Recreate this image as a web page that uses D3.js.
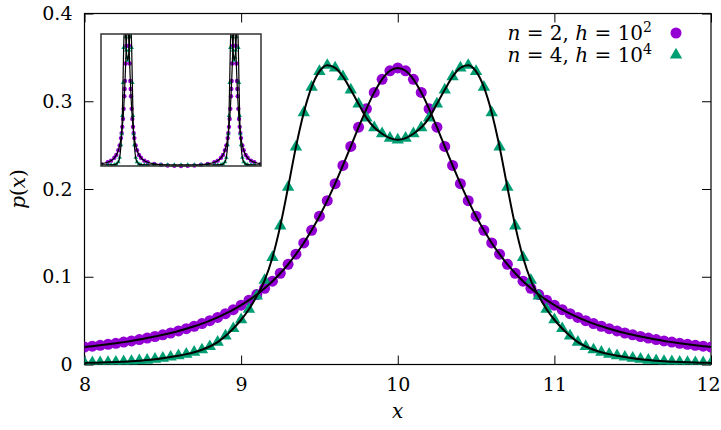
<!DOCTYPE html>
<html>
<head>
<meta charset="utf-8">
<script src="https://cdn.jsdelivr.net/npm/d3@7"></script>
<style>
  body { margin: 0; background: #fff; }
</style>
</head>
<body>
<div id="graph"></div>
<script>
// sample points, x from 8 to 12
const xs = [8, 8.05, 8.1, 8.15, 8.2, 8.25, 8.3, 8.35, 8.4, 8.45, 8.5, 8.55, 8.6, 8.65, 8.7, 8.75, 8.8, 8.85, 8.9, 8.95,
  9, 9.05, 9.1, 9.15, 9.2, 9.25, 9.3, 9.35, 9.4, 9.45, 9.5, 9.55, 9.6, 9.65, 9.7, 9.75, 9.8, 9.85, 9.9, 9.95,
  10, 10.05, 10.1, 10.15, 10.2, 10.25, 10.3, 10.35, 10.4, 10.45, 10.5, 10.55, 10.6, 10.65, 10.7, 10.75, 10.8, 10.85, 10.9, 10.95,
  11, 11.05, 11.1, 11.15, 11.2, 11.25, 11.3, 11.35, 11.4, 11.45, 11.5, 11.55, 11.6, 11.65, 11.7, 11.75, 11.8, 11.85, 11.9, 11.95, 12];

// n = 2, h = 10^2
const pN2 = [0.0199, 0.0209, 0.0219, 0.0230, 0.0242, 0.0255, 0.0269, 0.0284, 0.0301, 0.0319,
  0.0338, 0.0359, 0.0382, 0.0408, 0.0436, 0.0466, 0.0500, 0.0537, 0.0579, 0.0625,
  0.0676, 0.0733, 0.0797, 0.0869, 0.0949, 0.1040, 0.1142, 0.1257, 0.1385, 0.1529,
  0.1690, 0.1867, 0.2061, 0.2268, 0.2485, 0.2704, 0.2914, 0.3101, 0.3250, 0.3347,
  0.3380,
  0.3347, 0.3250, 0.3101, 0.2914, 0.2704, 0.2485, 0.2268, 0.2061, 0.1867, 0.1690,
  0.1529, 0.1385, 0.1257, 0.1142, 0.1040, 0.0949, 0.0869, 0.0797, 0.0733, 0.0676,
  0.0625, 0.0579, 0.0537, 0.0500, 0.0466, 0.0436, 0.0408, 0.0382, 0.0359, 0.0338,
  0.0319, 0.0301, 0.0284, 0.0269, 0.0255, 0.0242, 0.0230, 0.0219, 0.0209, 0.0199];

// n = 4, h = 10^4
const pN4 = [0.0018, 0.0020, 0.0022, 0.0025, 0.0028, 0.0032, 0.0037, 0.0043, 0.0050, 0.0060,
  0.0072, 0.0085, 0.0100, 0.0118, 0.0140, 0.0168, 0.0205, 0.0255, 0.0325, 0.0410,
  0.0510, 0.0630, 0.0780, 0.0960, 0.1220, 0.1580, 0.2020, 0.2480, 0.2870, 0.3160,
  0.3340, 0.3410, 0.3380, 0.3280, 0.3130, 0.2970, 0.2810, 0.2700, 0.2630, 0.2580,
  0.2560,
  0.2580, 0.2630, 0.2700, 0.2810, 0.2970, 0.3130, 0.3280, 0.3380, 0.3410, 0.3340,
  0.3160, 0.2870, 0.2480, 0.2020, 0.1580, 0.1220, 0.0960, 0.0780, 0.0630, 0.0510,
  0.0410, 0.0325, 0.0255, 0.0205, 0.0168, 0.0140, 0.0118, 0.0100, 0.0085, 0.0072,
  0.0060, 0.0050, 0.0043, 0.0037, 0.0032, 0.0028, 0.0025, 0.0022, 0.0020, 0.0018];

// inset: wider window with both peaks
const insetX = [6, 7, 7.5, 8, 8.3, 8.6, 8.8, 9, 9.1, 9.2, 9.3, 9.4, 9.5, 9.55, 9.6, 9.7, 9.8, 9.9,
  10, 10.1, 10.2, 10.3, 10.4, 10.45, 10.5, 10.6, 10.7, 10.8, 10.9, 11, 11.2, 11.4, 11.7, 12, 12.5, 13, 14,
  15, 16, 17, 18, 19, 20, 21,
  22, 23, 23.5, 24, 24.3, 24.6, 24.8, 25, 25.1, 25.2, 25.3, 25.4, 25.5, 25.55, 25.6, 25.7, 25.8, 25.9,
  26, 26.1, 26.2, 26.3, 26.4, 26.45, 26.5, 26.6, 26.7, 26.8, 26.9, 27, 27.2, 27.4, 27.7, 28, 28.5, 29, 30];
const insetN2 = [0.0052, 0.0091, 0.0130, 0.0199, 0.0269, 0.0382, 0.0500, 0.0676, 0.0797, 0.0949, 0.1142, 0.1385, 0.1690, 0.1867, 0.2061, 0.2485, 0.2914, 0.3250,
  0.3380, 0.3250, 0.2914, 0.2485, 0.2061, 0.1867, 0.1690, 0.1385, 0.1142, 0.0949, 0.0797, 0.0676, 0.0500, 0.0382, 0.0269, 0.0199, 0.0130, 0.0091, 0.0052,
  0.0030, 0.0012, 0.0004, 0.0001, 0.0004, 0.0012, 0.0030,
  0.0052, 0.0091, 0.0130, 0.0199, 0.0269, 0.0382, 0.0500, 0.0676, 0.0797, 0.0949, 0.1142, 0.1385, 0.1690, 0.1867, 0.2061, 0.2485, 0.2914, 0.3250,
  0.3380, 0.3250, 0.2914, 0.2485, 0.2061, 0.1867, 0.1690, 0.1385, 0.1142, 0.0949, 0.0797, 0.0676, 0.0500, 0.0382, 0.0269, 0.0199, 0.0130, 0.0091, 0.0052];
const insetN4 = [0.0030, 0.0030, 0.0030, 0.0032, 0.0045, 0.0100, 0.0205, 0.0510, 0.0780, 0.1220, 0.2020, 0.2870, 0.3340, 0.3410, 0.3380, 0.3130, 0.2810, 0.2630,
  0.2560, 0.2630, 0.2810, 0.3130, 0.3380, 0.3410, 0.3340, 0.2870, 0.2020, 0.1220, 0.0780, 0.0510, 0.0205, 0.0100, 0.0045, 0.0032, 0.0030, 0.0030, 0.0030,
  0.0030, 0.0030, 0.0030, 0.0030, 0.0030, 0.0030, 0.0030,
  0.0030, 0.0030, 0.0030, 0.0032, 0.0045, 0.0100, 0.0205, 0.0510, 0.0780, 0.1220, 0.2020, 0.2870, 0.3340, 0.3410, 0.3380, 0.3130, 0.2810, 0.2630,
  0.2560, 0.2630, 0.2810, 0.3130, 0.3380, 0.3410, 0.3340, 0.2870, 0.2020, 0.1220, 0.0780, 0.0510, 0.0205, 0.0100, 0.0045, 0.0032, 0.0030, 0.0030, 0.0030];

const xTicks = [8, 9, 10, 11, 12];
const yTicks = [0, 0.1, 0.2, 0.3, 0.4];
const yTickLabels = ['0', '0.1', '0.2', '0.3', '0.4'];

const purple = '#9400d3', green = '#009e73';
const serif = '"DejaVu Serif"';

const width = 721, height = 430;
const svg = d3.select('#graph').append('svg')
  .attr('width', width)
  .attr('height', height)
  .style('font-family', serif);

const x = d3.scaleLinear().domain([8, 12]).range([84.5, 711]);
const y = d3.scaleLinear().domain([0, 0.4]).range([364.5, 13.5]);

const defs = svg.append('defs');
defs.append('clipPath').attr('id', 'clipMain')
  .append('rect')
  .attr('x', x(8)).attr('y', y(0.4))
  .attr('width', x(12) - x(8)).attr('height', y(0) - y(0.4));

// axes, ticks inward and mirrored
const axisStyle = g => {
  g.attr('font-family', null).attr('font-size', 19);
  g.select('.domain').remove();
  g.selectAll('.tick line').attr('stroke', '#000');
  g.selectAll('.tick text').attr('fill', '#000').style('font-family', serif);
};
const xAxis = svg.append('g')
  .attr('transform', `translate(0,${y(0)})`)
  .call(d3.axisBottom(x).tickValues(xTicks).tickFormat(d3.format('d')).tickSize(-9).tickPadding(13))
  .call(axisStyle);
// keep the last label inside the page
xAxis.selectAll('.tick text').filter(d => d === 12).attr('dx', -3);
svg.append('g')
  .attr('transform', `translate(${x(8)},0)`)
  .call(d3.axisLeft(y).tickValues(yTicks).tickFormat((d, i) => yTickLabels[i]).tickSize(-9).tickPadding(12))
  .call(axisStyle);
svg.append('g')
  .attr('transform', `translate(0,${y(0.4)})`)
  .call(d3.axisTop(x).tickValues(xTicks).tickFormat('').tickSize(-9))
  .call(axisStyle);
svg.append('g')
  .attr('transform', `translate(${x(12)},0)`)
  .call(d3.axisRight(y).tickValues(yTicks).tickFormat('').tickSize(-9))
  .call(axisStyle);

svg.append('rect')
  .attr('x', x(8)).attr('y', y(0.4))
  .attr('width', x(12) - x(8)).attr('height', y(0) - y(0.4))
  .attr('fill', 'none').attr('stroke', '#000').attr('stroke-width', 1.2);

// axis labels
const yl = svg.append('text')
  .attr('transform', `translate(25,${(y(0) + y(0.4)) / 2}) rotate(-90)`)
  .attr('text-anchor', 'middle')
  .attr('font-size', 20);
yl.append('tspan').attr('font-style', 'italic').text('p');
yl.append('tspan').text('(');
yl.append('tspan').attr('font-style', 'italic').text('x');
yl.append('tspan').text(')');

svg.append('text')
  .attr('x', (x(8) + x(12)) / 2).attr('y', 418)
  .attr('text-anchor', 'middle')
  .attr('font-size', 20).attr('font-style', 'italic')
  .text('x');

// main data
const plot = svg.append('g').attr('clip-path', 'url(#clipMain)');
const tri = d3.symbol(d3.symbolTriangle).size(66)();
const triSmall = d3.symbol(d3.symbolTriangle).size(9)();

plot.selectAll('.pt2').data(xs).enter().append('circle')
  .attr('cx', d => x(d)).attr('cy', (d, i) => y(pN2[i]))
  .attr('r', 5.5).attr('fill', purple);
plot.selectAll('.pt4').data(xs).enter().append('path')
  .attr('d', tri)
  .attr('transform', (d, i) => `translate(${x(d)},${y(pN4[i])})`)
  .attr('fill', green);

const line = arr => d3.line().x(d => x(d)).y((d, i) => y(arr[i])).curve(d3.curveMonotoneX);
plot.append('path').datum(xs).attr('d', line(pN2))
  .attr('fill', 'none').attr('stroke', '#000').attr('stroke-width', 2);
plot.append('path').datum(xs).attr('d', line(pN4))
  .attr('fill', 'none').attr('stroke', '#000').attr('stroke-width', 2);

// legend
const legend = [
  { n: '2', h: '2', mark: 'circle', color: purple, y: 33 },
  { n: '4', h: '4', mark: 'tri', color: green, y: 55 }
];
legend.forEach(l => {
  const t = svg.append('text')
    .attr('x', 652).attr('y', l.y + 7)
    .attr('text-anchor', 'end')
    .attr('font-size', 20);
  t.append('tspan').attr('font-style', 'italic').text('n');
  t.append('tspan').text(` = ${l.n}, `);
  t.append('tspan').attr('font-style', 'italic').text('h');
  t.append('tspan').text(' = 10');
  t.append('tspan').attr('font-size', 14).attr('dy', -8).text(l.h);
  if (l.mark === 'circle') {
    svg.append('circle').attr('cx', 676).attr('cy', l.y).attr('r', 5.5).attr('fill', l.color);
  } else {
    svg.append('path').attr('d', tri).attr('transform', `translate(676,${l.y})`).attr('fill', l.color);
  }
});

// inset
const ix = d3.scaleLinear().domain([6, 30]).range([101, 261]);
const iy = d3.scaleLinear().domain([0, 0.32]).range([166, 34]);
defs.append('clipPath').attr('id', 'clipInset')
  .append('rect')
  .attr('x', 101).attr('y', 34)
  .attr('width', 160).attr('height', 136);

svg.append('rect')
  .attr('x', 101).attr('y', 34).attr('width', 160).attr('height', 132)
  .attr('fill', '#fff');
const inset = svg.append('g').attr('clip-path', 'url(#clipInset)');
inset.selectAll('.ip2').data(insetX).enter().append('circle')
  .attr('cx', d => ix(d)).attr('cy', (d, i) => iy(insetN2[i]))
  .attr('r', 2.2).attr('fill', purple);
inset.selectAll('.ip4').data(insetX).enter().append('path')
  .attr('d', triSmall)
  .attr('transform', (d, i) => `translate(${ix(d)},${iy(insetN4[i])})`)
  .attr('fill', green);
const iline = arr => d3.line().x(d => ix(d)).y((d, i) => iy(arr[i])).curve(d3.curveMonotoneX);
inset.append('path').datum(insetX).attr('d', iline(insetN2))
  .attr('fill', 'none').attr('stroke', '#000').attr('stroke-width', 1.2);
inset.append('path').datum(insetX).attr('d', iline(insetN4))
  .attr('fill', 'none').attr('stroke', '#000').attr('stroke-width', 1.2);
svg.append('rect')
  .attr('x', 101).attr('y', 34).attr('width', 160).attr('height', 132)
  .attr('fill', 'none').attr('stroke', '#333').attr('stroke-width', 1.5);
</script>
</body>
</html>
